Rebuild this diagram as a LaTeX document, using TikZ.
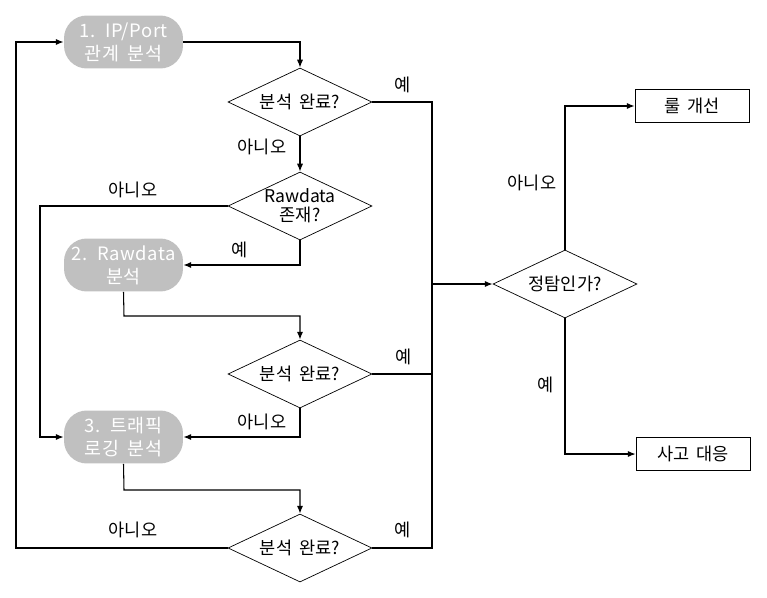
\documentclass[tikz,border=0pt]{standalone}
\usepackage{fontspec}
\setmainfont{Noto Sans CJK KR}[WordSpace=1.8]
\usetikzlibrary{arrows.meta, shapes.geometric}
\definecolor{boxgray}{RGB}{192,192,192}

\begin{document}
\begin{tikzpicture}[
    x=0.02cm, y=-0.02cm,
    font=\fontsize{10}{12}\selectfont,
    proc/.style={fill=boxgray, rounded corners=13pt, text=white, align=center,
        font=\fontsize{10.5}{13}\selectfont\addfontfeatures{LetterSpace=3},
        minimum width=2.38cm, minimum height=1.06cm, inner sep=0pt},
    dec/.style={draw, diamond, aspect=2.12, minimum width=2.88cm, minimum height=1.36cm,
        inner sep=0pt, align=center},
    outbox/.style={draw, minimum width=2.28cm, minimum height=0.66cm, inner sep=0pt},
    lbl/.style={inner sep=1pt},
    line/.style={line width=0.6pt},
    arr/.style={line, -{Latex[length=4.5pt,width=3.5pt]}}
]
\useasboundingbox (0,0) rectangle (767,598);

\node[proc] (p1) at (123.5,42) {1. IP/Port\\관계 분석};
\node[proc] (p2) at (123.5,265) {2. Rawdata\\분석};
\node[proc] (p3) at (123.5,437) {3. 트래픽\\로깅 분석};

\node[dec] (d1) at (300,102) {분석 완료?};
\node[dec, inner sep=-5pt, font=\fontsize{10}{11}\selectfont] (d2) at (300,206) {Rawdata\\존재?};
\node[dec] (d3) at (300,374) {분석 완료?};
\node[dec] (d4) at (300,548) {분석 완료?};
\node[dec] (d5) at (565,284) {정탐인가?};

\node[outbox] (r1) at (692,106) {룰 개선};
\node[outbox] (r2) at (693,454) {사고 대응};

\coordinate (jn) at (432,284);

\draw[arr] (p1.east) -| (d1.north);
\draw[arr] (d1.south) -- (d2.north);
\draw[arr] (d2.south) |- (p2.east);
\draw[arr] (d2.west) -- (40,206) |- (p3.west);
\draw[arr] (p2.south) -- (124,316) -| (d3.north);
\draw[arr] (d3.south) |- (p3.east);
\draw[arr] (p3.south) -- (124,490) -| (d4.north);
\draw[arr] (d4.west) -- (16,548) |- (p1.west);
\draw[line] (d1.east) -| (jn);
\draw[line] (d3.east) -| (jn);
\draw[line] (d4.east) -| (jn);
\draw[arr] (jn) -- (d5.west);
\draw[arr] (d5.north) |- (r1.west);
\draw[arr] (d5.south) |- (r2.west);

\node[lbl] (y1) at (403,85) {예};
\node[lbl] (n1) at (262,147) {아니오};
\node[lbl] (n2) at (133,190) {아니오};
\node[lbl] (y2) at (240,250) {예};
\node[lbl] (y3) at (404,357) {예};
\node[lbl] (n3) at (262,422) {아니오};
\node[lbl] (y4) at (403,530) {예};
\node[lbl] (n4) at (133,530) {아니오};
\node[lbl] (n5) at (532,183) {아니오};
\node[lbl] (y5) at (546,385) {예};

\end{tikzpicture}
\end{document}
